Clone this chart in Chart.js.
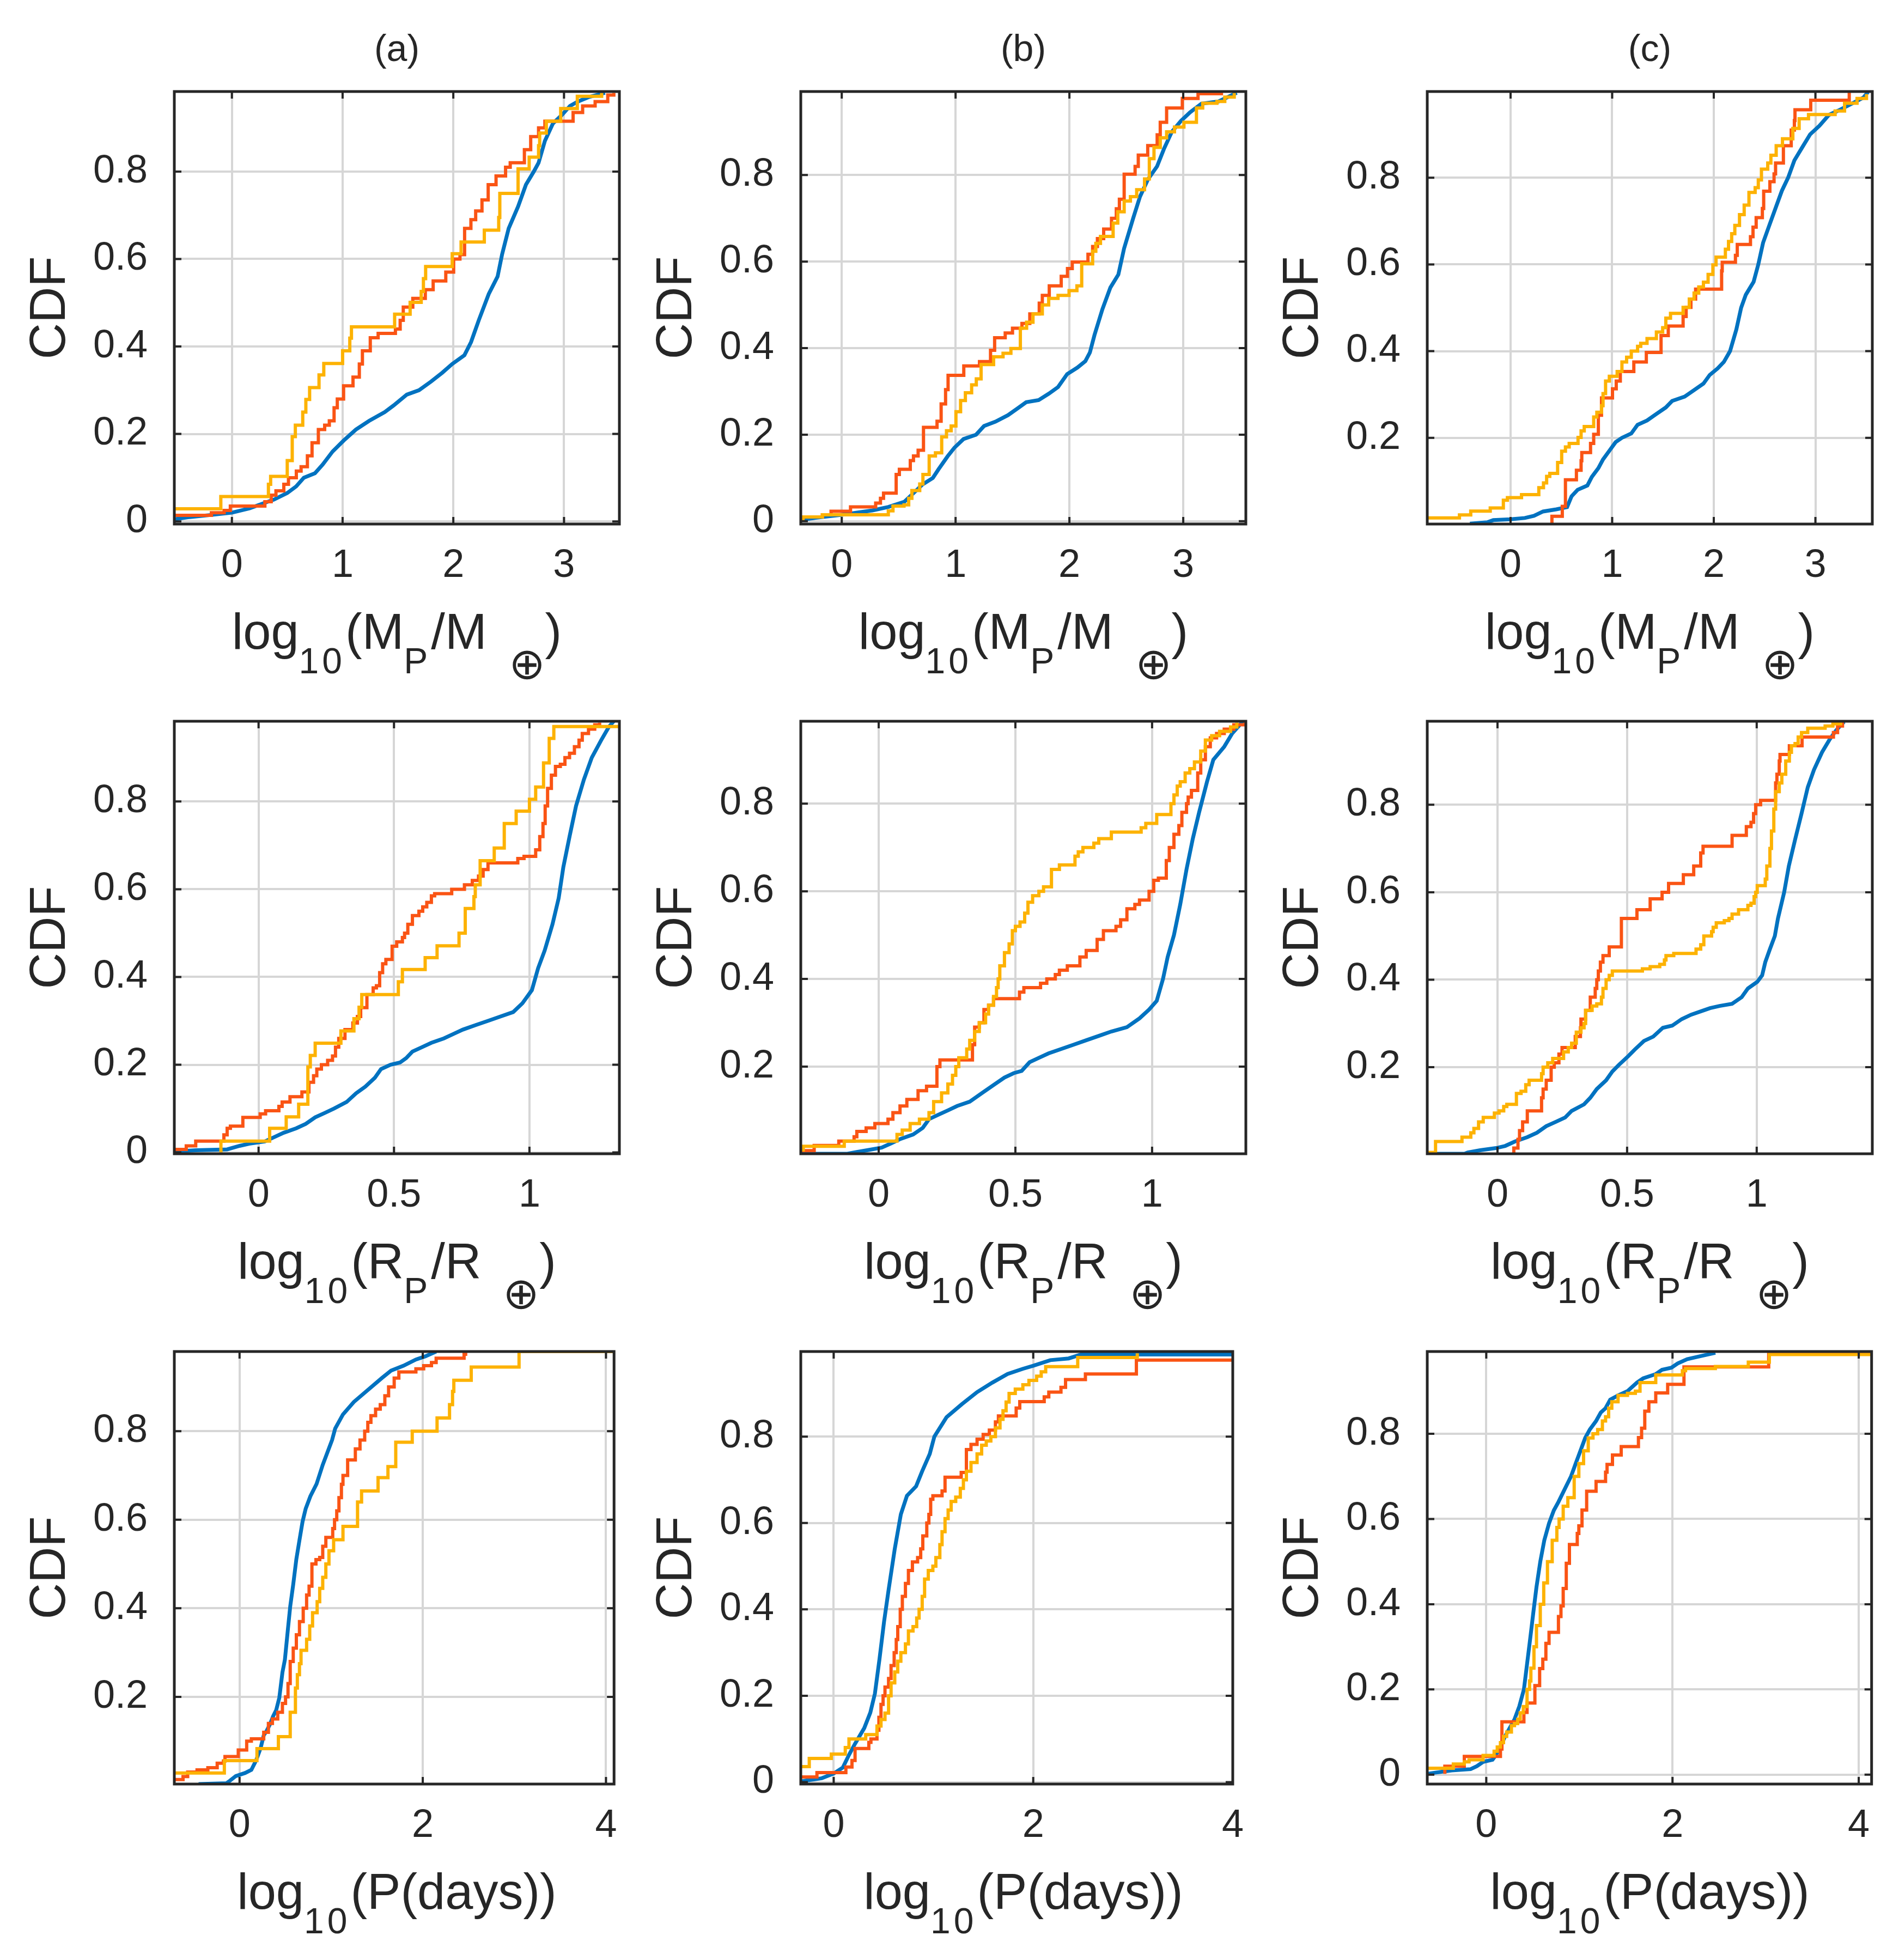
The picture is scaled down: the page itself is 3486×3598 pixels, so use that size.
<!DOCTYPE html>
<html>
<head>
<meta charset="utf-8">
<script src="https://cdn.jsdelivr.net/npm/chart.js@4.4.0/dist/chart.umd.min.js"></script>
<style>
  html, body { margin: 0; padding: 0; background: #fff; }
  body { width: 3486px; height: 3598px; position: relative; overflow: hidden;
         font-family: "Liberation Sans", Arial, sans-serif; color: #262626; }
  canvas { position: absolute; }
  .xl { position: absolute; text-align: center; font-size: 92px; line-height: 92px; white-space: nowrap; }
  .xl .s { font-size: 66px; position: relative; top: 45px; letter-spacing: 6px; }
  .xl .e { font-size: 80px; position: relative; top: 55px; font-family: "DejaVu Sans ExtraLight", "DejaVu Sans", sans-serif; margin-left: 40px; font-weight: 200; }
  .tt { position: absolute; text-align: center; font-size: 68px; line-height: 68px; }
</style>
</head>
<body>
<script>
// column titles and tick values
const colTitles = ["(a)", "(b)", "(c)"];
const massTicks = [0, 1, 2, 3];
const radiusTicks = [0, 0.5, 1];
const periodTicks = [0, 2, 4];
const cdfTicks = [0, 0.2, 0.4, 0.6, 0.8];

// ---- row 1: log10(Mp/Mearth), [x, F] pairs ----
const massBlueA = [[-0.52,0.005],[-0.38,0.01],[-0.18,0.015],[0,0.02],[0.16,0.03],[0.27,0.04],[0.38,0.05],[0.5,0.065],[0.58,0.08],[0.65,0.1],[0.75,0.11],[0.82,0.13],[0.91,0.16],[1.01,0.185],[1.12,0.21],[1.24,0.23],[1.38,0.25],[1.46,0.265],[1.58,0.29],[1.69,0.3],[1.8,0.32],[1.9,0.34],[1.99,0.36],[2.1,0.38],[2.16,0.41],[2.23,0.46],[2.32,0.52],[2.4,0.56],[2.44,0.61],[2.5,0.67],[2.585,0.72],[2.656,0.77],[2.727,0.8],[2.77,0.82],[2.827,0.87],[2.9,0.91],[2.983,0.93],[3.054,0.95],[3.125,0.96],[3.22,0.97],[3.37,0.98]];
const massRedA = [[-0.52,0.014],[-0.185,0.02],[-0.07,0.025],[-0.014,0.035],[0.298,0.045],[0.355,0.06],[0.398,0.07],[0.469,0.085],[0.511,0.1],[0.582,0.115],[0.625,0.125],[0.682,0.15],[0.724,0.18],[0.781,0.21],[0.838,0.22],[0.88,0.23],[0.923,0.26],[0.952,0.28],[1.009,0.31],[1.094,0.33],[1.151,0.36],[1.179,0.39],[1.25,0.42],[1.321,0.43],[1.477,0.44],[1.52,0.46],[1.548,0.49],[1.634,0.51],[1.747,0.53],[1.818,0.55],[1.932,0.57],[2.003,0.6],[2.06,0.61],[2.102,0.67],[2.159,0.69],[2.202,0.71],[2.259,0.735],[2.315,0.77],[2.386,0.79],[2.472,0.81],[2.514,0.82],[2.642,0.85],[2.699,0.88],[2.77,0.9],[2.827,0.915],[3.082,0.935],[3.168,0.95],[3.281,0.96],[3.395,0.975],[3.45,0.98]];
const massYellowA = [[-0.52,0.029],[-0.1,0.057],[0.33,0.085],[0.35,0.103],[0.5,0.139],[0.545,0.194],[0.573,0.22],[0.64,0.25],[0.668,0.279],[0.702,0.306],[0.787,0.335],[0.83,0.361],[1.0,0.39],[1.065,0.419],[1.08,0.445],[1.47,0.474],[1.61,0.501],[1.71,0.526],[1.73,0.555],[1.75,0.583],[1.99,0.612],[2.07,0.639],[2.28,0.666],[2.41,0.695],[2.42,0.75],[2.585,0.806],[2.685,0.833],[2.77,0.859],[2.78,0.888],[2.84,0.915],[2.97,0.944],[3.12,0.972],[3.34,0.98]];

const massBlueB = [[-0.36,0.003],[-0.23,0.008],[0,0.015],[0.27,0.025],[0.41,0.033],[0.55,0.045],[0.63,0.065],[0.71,0.085],[0.8,0.1],[0.85,0.12],[0.93,0.15],[0.99,0.17],[1.07,0.19],[1.18,0.2],[1.25,0.22],[1.35,0.23],[1.46,0.245],[1.54,0.26],[1.62,0.275],[1.73,0.28],[1.82,0.295],[1.9,0.31],[1.98,0.34],[2.07,0.355],[2.14,0.37],[2.18,0.39],[2.22,0.43],[2.29,0.49],[2.36,0.54],[2.43,0.57],[2.48,0.63],[2.56,0.7],[2.62,0.75],[2.69,0.79],[2.77,0.82],[2.83,0.86],[2.9,0.9],[2.98,0.925],[3.06,0.945],[3.16,0.965],[3.31,0.97],[3.47,0.99]];
const massRedB = [[-0.36,0.01],[-0.17,0.015],[-0.094,0.023],[0.077,0.033],[0.298,0.042],[0.34,0.053],[0.367,0.065],[0.478,0.108],[0.506,0.12],[0.602,0.14],[0.63,0.151],[0.671,0.164],[0.718,0.217],[0.837,0.231],[0.873,0.271],[0.912,0.304],[0.934,0.337],[1.072,0.359],[1.21,0.369],[1.307,0.395],[1.343,0.424],[1.436,0.435],[1.5,0.446],[1.583,0.457],[1.652,0.479],[1.735,0.504],[1.762,0.522],[1.823,0.544],[1.928,0.566],[1.983,0.584],[2.025,0.599],[2.163,0.617],[2.204,0.635],[2.246,0.653],[2.301,0.675],[2.37,0.7],[2.412,0.722],[2.439,0.744],[2.481,0.802],[2.577,0.82],[2.605,0.846],[2.688,0.868],[2.771,0.893],[2.798,0.922],[2.854,0.955],[2.992,0.977],[3.13,0.988],[3.35,0.988]];
const massYellowB = [[-0.36,0.005],[-0.34,0.01],[-0.17,0.015],[0.409,0.024],[0.45,0.035],[0.547,0.038],[0.588,0.053],[0.616,0.071],[0.685,0.086],[0.713,0.108],[0.768,0.151],[0.823,0.158],[0.878,0.195],[0.92,0.209],[0.961,0.22],[1.003,0.253],[1.044,0.279],[1.086,0.297],[1.141,0.315],[1.182,0.329],[1.224,0.362],[1.334,0.38],[1.417,0.388],[1.486,0.399],[1.569,0.446],[1.624,0.46],[1.68,0.479],[1.762,0.5],[1.818,0.515],[1.9,0.522],[1.997,0.533],[2.066,0.544],[2.108,0.595],[2.204,0.624],[2.232,0.642],[2.273,0.658],[2.384,0.689],[2.425,0.715],[2.481,0.74],[2.536,0.75],[2.591,0.766],[2.66,0.791],[2.702,0.838],[2.743,0.864],[2.798,0.886],[2.854,0.9],[2.923,0.911],[3.006,0.922],[3.116,0.955],[3.171,0.966],[3.296,0.97],[3.365,0.98],[3.448,0.99]];

const massBlueC = [[-0.4,0.002],[-0.23,0.005],[-0.17,0.01],[0,0.012],[0.14,0.015],[0.23,0.02],[0.32,0.03],[0.45,0.035],[0.556,0.04],[0.6,0.065],[0.66,0.08],[0.756,0.09],[0.8,0.11],[0.864,0.13],[0.91,0.15],[0.972,0.17],[1.034,0.19],[1.096,0.2],[1.188,0.21],[1.25,0.23],[1.343,0.24],[1.435,0.255],[1.528,0.27],[1.59,0.285],[1.713,0.295],[1.806,0.31],[1.898,0.325],[1.96,0.345],[2.037,0.36],[2.099,0.375],[2.16,0.4],[2.222,0.45],[2.269,0.5],[2.315,0.53],[2.392,0.56],[2.438,0.6],[2.485,0.65],[2.546,0.69],[2.608,0.73],[2.67,0.77],[2.731,0.8],[2.793,0.84],[2.87,0.87],[2.948,0.9],[3.04,0.92],[3.133,0.945],[3.225,0.955],[3.349,0.97],[3.472,0.985],[3.518,0.998]];
const massRedC = [[0.407,0],[0.407,0.019],[0.509,0.042],[0.54,0.103],[0.648,0.125],[0.694,0.147],[0.701,0.166],[0.787,0.187],[0.818,0.208],[0.864,0.252],[0.895,0.292],[1.003,0.313],[1.04,0.331],[1.08,0.353],[1.213,0.375],[1.336,0.397],[1.481,0.436],[1.552,0.458],[1.698,0.48],[1.728,0.501],[1.775,0.52],[1.821,0.543],[2.077,0.585],[2.083,0.605],[2.213,0.621],[2.231,0.646],[2.361,0.664],[2.386,0.686],[2.417,0.708],[2.478,0.729],[2.491,0.769],[2.552,0.791],[2.593,0.809],[2.608,0.834],[2.685,0.874],[2.762,0.91],[2.793,0.932],[2.799,0.957],[2.954,0.979],[3.333,0.999]];
const massYellowC = [[-0.82,0.015],[-0.503,0.022],[-0.392,0.031],[-0.2,0.038],[-0.071,0.056],[-0.031,0.062],[0.108,0.069],[0.278,0.085],[0.324,0.096],[0.355,0.111],[0.386,0.118],[0.463,0.143],[0.503,0.169],[0.54,0.179],[0.577,0.187],[0.664,0.201],[0.694,0.216],[0.725,0.226],[0.818,0.248],[0.849,0.259],[0.895,0.274],[0.91,0.302],[0.935,0.331],[0.972,0.342],[1.049,0.353],[1.096,0.375],[1.142,0.386],[1.188,0.4],[1.25,0.411],[1.281,0.418],[1.343,0.429],[1.435,0.444],[1.497,0.454],[1.528,0.476],[1.574,0.487],[1.698,0.501],[1.759,0.52],[1.806,0.534],[1.852,0.548],[1.898,0.559],[1.944,0.577],[1.991,0.599],[2.022,0.617],[2.114,0.635],[2.145,0.653],[2.176,0.671],[2.207,0.69],[2.253,0.715],[2.299,0.737],[2.346,0.766],[2.407,0.777],[2.438,0.795],[2.469,0.82],[2.531,0.834],[2.562,0.852],[2.614,0.874],[2.676,0.89],[2.778,0.914],[2.84,0.936],[2.932,0.946],[3.194,0.954],[3.287,0.972],[3.41,0.983],[3.503,0.993]];

// ---- row 2: log10(Rp/Rearth) ----
const radiusBlueA = [[-0.311,0.002],[-0.232,0.005],[-0.116,0.007],[-0.07,0.015],[-0.035,0.02],[0.023,0.025],[0.058,0.035],[0.093,0.045],[0.139,0.055],[0.174,0.065],[0.209,0.08],[0.244,0.09],[0.278,0.1],[0.325,0.115],[0.36,0.135],[0.394,0.15],[0.429,0.17],[0.452,0.19],[0.487,0.2],[0.522,0.205],[0.545,0.215],[0.568,0.23],[0.603,0.24],[0.638,0.25],[0.684,0.26],[0.719,0.27],[0.754,0.28],[0.8,0.29],[0.847,0.3],[0.893,0.31],[0.94,0.32],[0.974,0.34],[1.009,0.37],[1.032,0.42],[1.056,0.46],[1.085,0.52],[1.108,0.58],[1.125,0.65],[1.148,0.72],[1.172,0.79],[1.201,0.85],[1.23,0.9],[1.265,0.94],[1.293,0.97],[1.311,0.983]];
const radiusRedA = [[-0.311,0.007],[-0.267,0.015],[-0.232,0.026],[-0.128,0.04],[-0.116,0.055],[-0.104,0.06],[-0.058,0.08],[0.006,0.088],[0.026,0.095],[0.075,0.105],[0.087,0.115],[0.116,0.127],[0.16,0.138],[0.186,0.16],[0.203,0.175],[0.215,0.19],[0.232,0.2],[0.255,0.21],[0.273,0.22],[0.284,0.24],[0.296,0.26],[0.319,0.28],[0.348,0.295],[0.365,0.31],[0.377,0.33],[0.4,0.36],[0.423,0.375],[0.435,0.38],[0.447,0.41],[0.458,0.43],[0.47,0.44],[0.493,0.47],[0.51,0.48],[0.531,0.49],[0.539,0.5],[0.551,0.52],[0.568,0.54],[0.592,0.55],[0.606,0.56],[0.621,0.57],[0.638,0.585],[0.65,0.59],[0.713,0.6],[0.76,0.61],[0.789,0.62],[0.812,0.63],[0.829,0.645],[0.847,0.66],[0.957,0.67],[0.98,0.675],[1.023,0.69],[1.038,0.72],[1.05,0.75],[1.058,0.79],[1.067,0.83],[1.081,0.86],[1.096,0.88],[1.114,0.885],[1.131,0.9],[1.148,0.91],[1.166,0.925],[1.183,0.94],[1.195,0.955],[1.218,0.965],[1.241,0.975],[1.259,0.98]];
const radiusYellowA = [[-0.139,0],[-0.139,0.026],[0.041,0.055],[0.102,0.081],[0.148,0.11],[0.182,0.195],[0.191,0.221],[0.209,0.249],[0.304,0.277],[0.352,0.305],[0.371,0.331],[0.381,0.36],[0.516,0.389],[0.531,0.417],[0.615,0.444],[0.659,0.471],[0.74,0.5],[0.763,0.556],[0.795,0.583],[0.8,0.61],[0.818,0.665],[0.87,0.694],[0.907,0.75],[0.951,0.778],[1.0,0.805],[1.023,0.833],[1.052,0.888],[1.073,0.944],[1.09,0.971],[1.332,0.971]];

const radiusBlueB = [[-0.285,0.001],[-0.115,0.001],[-0.08,0.005],[-0.034,0.01],[0.011,0.015],[0.046,0.025],[0.08,0.035],[0.126,0.045],[0.161,0.06],[0.184,0.08],[0.218,0.09],[0.253,0.1],[0.287,0.11],[0.333,0.12],[0.379,0.14],[0.425,0.16],[0.46,0.175],[0.494,0.185],[0.523,0.19],[0.552,0.21],[0.586,0.22],[0.621,0.23],[0.667,0.24],[0.713,0.25],[0.759,0.26],[0.805,0.27],[0.851,0.28],[0.908,0.29],[0.954,0.31],[0.989,0.33],[1.017,0.35],[1.04,0.4],[1.057,0.45],[1.08,0.5],[1.103,0.57],[1.126,0.65],[1.149,0.72],[1.172,0.78],[1.201,0.85],[1.224,0.9],[1.264,0.93],[1.293,0.96],[1.333,0.988]];
const radiusRedB = [[-0.285,0.008],[-0.236,0.02],[-0.146,0.03],[-0.09,0.04],[-0.08,0.052],[-0.046,0.06],[-0.014,0.07],[0.034,0.08],[0.052,0.095],[0.078,0.11],[0.103,0.125],[0.144,0.145],[0.175,0.155],[0.213,0.2],[0.224,0.215],[0.343,0.25],[0.351,0.29],[0.368,0.3],[0.385,0.33],[0.402,0.34],[0.42,0.355],[0.515,0.37],[0.531,0.38],[0.592,0.39],[0.615,0.4],[0.646,0.41],[0.661,0.42],[0.69,0.43],[0.736,0.45],[0.759,0.465],[0.799,0.49],[0.822,0.51],[0.868,0.52],[0.885,0.535],[0.908,0.56],[0.937,0.57],[0.954,0.58],[0.989,0.6],[1.006,0.625],[1.023,0.63],[1.052,0.67],[1.063,0.7],[1.08,0.73],[1.098,0.75],[1.109,0.78],[1.126,0.8],[1.132,0.815],[1.144,0.83],[1.167,0.87],[1.178,0.9],[1.195,0.93],[1.213,0.95],[1.236,0.96],[1.264,0.97],[1.299,0.98],[1.339,0.985]];
const radiusYellowB = [[-0.285,0.01],[-0.276,0.018],[-0.126,0.03],[0.067,0.045],[0.086,0.055],[0.115,0.07],[0.149,0.08],[0.184,0.095],[0.201,0.12],[0.23,0.14],[0.253,0.16],[0.27,0.18],[0.282,0.2],[0.293,0.22],[0.322,0.24],[0.333,0.26],[0.351,0.28],[0.368,0.3],[0.391,0.32],[0.402,0.34],[0.42,0.36],[0.431,0.38],[0.437,0.4],[0.443,0.43],[0.46,0.46],[0.477,0.48],[0.489,0.51],[0.5,0.52],[0.517,0.53],[0.534,0.55],[0.546,0.575],[0.563,0.59],[0.586,0.6],[0.603,0.61],[0.632,0.65],[0.661,0.66],[0.718,0.68],[0.73,0.69],[0.747,0.7],[0.787,0.71],[0.805,0.72],[0.851,0.735],[0.96,0.745],[0.977,0.755],[1.017,0.775],[1.069,0.8],[1.08,0.82],[1.092,0.84],[1.103,0.85],[1.121,0.87],[1.138,0.88],[1.155,0.895],[1.178,0.92],[1.195,0.945],[1.218,0.955],[1.247,0.965],[1.287,0.975],[1.31,0.985]];

const radiusBlueC = [[-0.271,0.002],[-0.127,0.002],[-0.115,0.005],[-0.067,0.01],[-0.006,0.015],[0.03,0.02],[0.067,0.03],[0.115,0.04],[0.152,0.05],[0.188,0.065],[0.225,0.075],[0.261,0.085],[0.286,0.1],[0.334,0.115],[0.358,0.13],[0.383,0.15],[0.419,0.17],[0.443,0.19],[0.468,0.205],[0.504,0.225],[0.529,0.24],[0.565,0.26],[0.601,0.27],[0.638,0.29],[0.674,0.295],[0.711,0.31],[0.747,0.32],[0.796,0.33],[0.82,0.335],[0.857,0.34],[0.905,0.345],[0.942,0.36],[0.966,0.38],[1.002,0.395],[1.021,0.41],[1.033,0.44],[1.051,0.47],[1.07,0.5],[1.082,0.54],[1.106,0.6],[1.124,0.66],[1.148,0.72],[1.173,0.78],[1.197,0.84],[1.221,0.88],[1.252,0.92],[1.282,0.95],[1.306,0.97],[1.337,0.99]];
const radiusRedC = [[0.063,0],[0.063,0.015],[0.079,0.035],[0.085,0.055],[0.097,0.075],[0.115,0.1],[0.17,0.13],[0.176,0.15],[0.188,0.17],[0.207,0.2],[0.219,0.21],[0.237,0.23],[0.249,0.245],[0.3,0.27],[0.32,0.29],[0.322,0.31],[0.34,0.33],[0.358,0.36],[0.377,0.38],[0.383,0.4],[0.389,0.42],[0.397,0.44],[0.407,0.455],[0.431,0.475],[0.478,0.54],[0.538,0.56],[0.589,0.585],[0.635,0.6],[0.66,0.62],[0.717,0.64],[0.757,0.66],[0.784,0.69],[0.793,0.705],[0.905,0.73],[0.96,0.75],[0.978,0.76],[0.988,0.78],[0.996,0.8],[1.015,0.81],[1.073,0.85],[1.078,0.87],[1.087,0.9],[1.09,0.915],[1.126,0.935],[1.175,0.955],[1.296,0.965],[1.312,0.98],[1.331,0.99]];
const radiusYellowC = [[-0.271,0.005],[-0.239,0.03],[-0.137,0.04],[-0.103,0.05],[-0.091,0.06],[-0.073,0.075],[-0.055,0.085],[-0.012,0.095],[0.006,0.1],[0.024,0.11],[0.036,0.115],[0.073,0.14],[0.091,0.145],[0.109,0.16],[0.122,0.17],[0.17,0.185],[0.176,0.2],[0.194,0.21],[0.213,0.22],[0.255,0.235],[0.273,0.245],[0.286,0.255],[0.304,0.28],[0.322,0.29],[0.334,0.3],[0.34,0.33],[0.365,0.34],[0.383,0.345],[0.401,0.36],[0.407,0.38],[0.419,0.4],[0.431,0.41],[0.443,0.42],[0.559,0.425],[0.589,0.43],[0.626,0.435],[0.644,0.445],[0.65,0.455],[0.68,0.46],[0.766,0.47],[0.784,0.48],[0.796,0.5],[0.826,0.51],[0.832,0.52],[0.844,0.53],[0.875,0.535],[0.893,0.54],[0.905,0.55],[0.93,0.56],[0.966,0.57],[0.978,0.575],[0.99,0.59],[0.996,0.6],[1.002,0.615],[1.033,0.63],[1.039,0.66],[1.051,0.7],[1.057,0.74],[1.066,0.79],[1.073,0.83],[1.087,0.85],[1.097,0.87],[1.112,0.9],[1.126,0.92],[1.134,0.935],[1.148,0.94],[1.16,0.955],[1.173,0.965],[1.197,0.975],[1.264,0.98],[1.294,0.985],[1.324,0.993]];

// ---- row 3: log10(P(days)) ----
const periodBlueA = [[-0.447,0.003],[-0.142,0.005],[-0.108,0.01],[-0.041,0.021],[0.061,0.028],[0.129,0.035],[0.18,0.056],[0.231,0.085],[0.264,0.113],[0.298,0.124],[0.332,0.138],[0.366,0.156],[0.4,0.17],[0.434,0.198],[0.468,0.255],[0.495,0.284],[0.529,0.355],[0.553,0.404],[0.586,0.454],[0.62,0.511],[0.654,0.554],[0.688,0.596],[0.722,0.625],[0.773,0.653],[0.841,0.681],[0.908,0.724],[1.01,0.78],[1.044,0.806],[1.129,0.838],[1.247,0.866],[1.383,0.89],[1.553,0.92],[1.654,0.937],[1.79,0.948],[1.925,0.962],[2.027,0.969],[2.146,0.98]];
const periodRedA = [[-0.712,0.013],[-0.617,0.02],[-0.566,0.03],[-0.464,0.035],[-0.346,0.04],[-0.244,0.05],[-0.176,0.055],[-0.159,0.065],[-0.014,0.08],[0.078,0.1],[0.129,0.105],[0.264,0.12],[0.315,0.14],[0.359,0.15],[0.417,0.165],[0.468,0.185],[0.502,0.2],[0.529,0.23],[0.553,0.28],[0.586,0.31],[0.62,0.34],[0.654,0.37],[0.695,0.4],[0.732,0.43],[0.759,0.45],[0.79,0.5],[0.834,0.51],[0.875,0.515],[0.908,0.54],[0.942,0.56],[1.017,0.58],[1.037,0.6],[1.061,0.62],[1.085,0.65],[1.112,0.68],[1.129,0.7],[1.18,0.735],[1.264,0.76],[1.315,0.78],[1.366,0.8],[1.4,0.82],[1.434,0.835],[1.485,0.85],[1.536,0.86],[1.586,0.88],[1.627,0.9],[1.688,0.92],[1.739,0.934],[1.925,0.941],[2.01,0.948],[2.095,0.955],[2.146,0.965],[2.451,0.974],[2.468,0.98]];
const periodYellowA = [[-0.712,0.028],[-0.166,0.056],[0.19,0.083],[0.424,0.11],[0.553,0.165],[0.61,0.22],[0.631,0.25],[0.654,0.275],[0.671,0.305],[0.732,0.33],[0.766,0.36],[0.797,0.39],[0.847,0.415],[0.875,0.445],[0.908,0.47],[0.942,0.5],[0.976,0.53],[1.027,0.555],[1.129,0.585],[1.288,0.64],[1.332,0.665],[1.512,0.695],[1.62,0.72],[1.705,0.775],[1.885,0.8],[2.156,0.83],[2.292,0.86],[2.325,0.89],[2.339,0.915],[2.529,0.945],[3.051,0.98],[4.088,0.98]];

const periodBlueB = [[-0.33,0.002],[-0.12,0.009],[0,0.02],[0.092,0.034],[0.153,0.063],[0.214,0.089],[0.306,0.125],[0.367,0.161],[0.413,0.205],[0.459,0.285],[0.505,0.372],[0.55,0.445],[0.612,0.54],[0.673,0.62],[0.734,0.663],[0.826,0.685],[0.887,0.72],[0.963,0.76],[1.009,0.8],[1.131,0.845],[1.284,0.875],[1.437,0.903],[1.59,0.925],[1.743,0.945],[1.896,0.957],[2.0,0.964],[2.171,0.977],[2.355,0.981],[2.477,0.99],[4.0,0.99]];
const periodRedB = [[-0.33,0.012],[-0.168,0.022],[0.122,0.035],[0.183,0.05],[0.214,0.078],[0.352,0.092],[0.373,0.1],[0.434,0.12],[0.453,0.15],[0.474,0.18],[0.495,0.2],[0.514,0.22],[0.55,0.24],[0.575,0.27],[0.606,0.3],[0.627,0.33],[0.642,0.36],[0.667,0.4],[0.688,0.43],[0.719,0.46],[0.749,0.49],[0.789,0.51],[0.841,0.52],[0.872,0.54],[0.893,0.57],[0.933,0.6],[0.954,0.62],[0.972,0.655],[0.994,0.663],[1.086,0.674],[1.116,0.706],[1.278,0.717],[1.33,0.77],[1.376,0.782],[1.437,0.794],[1.498,0.805],[1.56,0.815],[1.621,0.834],[1.651,0.848],[1.829,0.866],[1.865,0.881],[2.11,0.892],[2.156,0.903],[2.278,0.914],[2.324,0.932],[2.523,0.945],[3.034,0.977],[4.0,0.977]];
const periodYellowB = [[-0.33,0.036],[-0.245,0.055],[-0.024,0.065],[0.116,0.08],[0.153,0.1],[0.321,0.11],[0.434,0.13],[0.474,0.145],[0.514,0.16],[0.55,0.2],[0.575,0.23],[0.612,0.255],[0.642,0.28],[0.673,0.3],[0.719,0.32],[0.749,0.35],[0.795,0.36],[0.832,0.38],[0.856,0.4],[0.887,0.43],[0.911,0.47],[0.948,0.49],[0.994,0.5],[1.024,0.52],[1.064,0.55],[1.086,0.58],[1.116,0.61],[1.147,0.63],[1.177,0.65],[1.223,0.66],[1.269,0.68],[1.3,0.7],[1.33,0.72],[1.376,0.74],[1.437,0.76],[1.483,0.78],[1.529,0.79],[1.575,0.8],[1.621,0.82],[1.667,0.84],[1.697,0.86],[1.728,0.88],[1.758,0.9],[1.82,0.91],[1.896,0.92],[1.957,0.93],[2.034,0.94],[2.08,0.95],[2.125,0.962],[2.446,0.983],[3.043,0.993]];

const periodBlueC = [[-0.634,0.002],[-0.539,0.005],[-0.371,0.01],[-0.168,0.013],[-0.101,0.02],[-0.034,0.03],[0.067,0.035],[0.101,0.045],[0.152,0.065],[0.202,0.09],[0.253,0.11],[0.303,0.13],[0.354,0.16],[0.404,0.2],[0.438,0.26],[0.472,0.32],[0.505,0.38],[0.539,0.44],[0.58,0.5],[0.623,0.55],[0.674,0.59],[0.725,0.62],[0.775,0.64],[0.842,0.67],[0.91,0.7],[0.96,0.73],[1.011,0.76],[1.062,0.79],[1.112,0.81],[1.179,0.83],[1.23,0.85],[1.281,0.86],[1.331,0.88],[1.415,0.89],[1.516,0.9],[1.618,0.92],[1.685,0.93],[1.82,0.94],[1.887,0.95],[1.988,0.955],[2.056,0.965],[2.157,0.975],[2.258,0.98],[2.46,0.99]];
const periodRedC = [[-0.445,0.002],[-0.445,0.02],[-0.236,0.043],[0.152,0.06],[0.168,0.124],[0.404,0.146],[0.438,0.168],[0.522,0.209],[0.573,0.249],[0.607,0.271],[0.64,0.308],[0.674,0.334],[0.775,0.371],[0.802,0.396],[0.826,0.437],[0.859,0.496],[0.893,0.54],[0.977,0.566],[0.994,0.584],[1.028,0.621],[1.078,0.665],[1.179,0.688],[1.281,0.71],[1.297,0.728],[1.355,0.75],[1.449,0.77],[1.634,0.791],[1.668,0.813],[1.702,0.853],[1.746,0.875],[1.82,0.896],[1.948,0.916],[2.123,0.957],[3.033,0.988],[4.138,0.988]];
const periodYellowC = [[-0.634,0.015],[-0.354,0.025],[-0.236,0.03],[-0.185,0.035],[-0.034,0.045],[0.084,0.055],[0.118,0.065],[0.152,0.075],[0.185,0.09],[0.219,0.1],[0.27,0.115],[0.303,0.12],[0.337,0.13],[0.364,0.145],[0.398,0.16],[0.438,0.2],[0.465,0.22],[0.479,0.25],[0.512,0.3],[0.539,0.35],[0.58,0.4],[0.617,0.45],[0.657,0.5],[0.708,0.55],[0.758,0.58],[0.782,0.6],[0.826,0.63],[0.876,0.65],[0.944,0.7],[0.994,0.73],[1.045,0.76],[1.095,0.79],[1.146,0.8],[1.196,0.81],[1.247,0.83],[1.281,0.84],[1.314,0.86],[1.348,0.875],[1.415,0.89],[1.516,0.895],[1.601,0.9],[1.651,0.92],[1.82,0.938],[2.106,0.948],[2.14,0.953],[2.46,0.958],[2.814,0.968],[3.04,0.986],[4.138,0.986]];

// ---- look ----
const FONT = '"Liberation Sans", Arial, Helvetica, sans-serif';
const BLUE = '#0072C0', RED = '#FA5414', YELLOW = '#FDB202';
const TXT = '#262626', GRID = '#d6d6d6';
const colLeft = [320, 1470, 2620], rowTop = [168, 1324, 2481];
const plotW = 817, plotH = 794, padL = 320, padT = 168, padR = 30, padB = 140;

const xLabels = [
  'log<span class="s">10</span>(M<span class="s">P</span>/M<span class="e">&#8853;</span>)',
  'log<span class="s">10</span>(R<span class="s">P</span>/R<span class="e">&#8853;</span>)',
  'log<span class="s">10</span>(P(days))'
];

// one entry per axes: data + the axis limits of that subplot
const panels = [
  {row: 0, col: 0, xr: [-0.52, 3.50], yr: [-0.006, 0.983], ticks: massTicks, lines: [massBlueA, massRedA, massYellowA]},
  {row: 0, col: 1, xr: [-0.36, 3.55], yr: [-0.0065, 0.993], ticks: massTicks, lines: [massBlueB, massRedB, massYellowB]},
  {row: 0, col: 2, xr: [-0.82, 3.56], yr: [0.001, 0.999], ticks: massTicks, lines: [massBlueC, massRedC, massYellowC]},
  {row: 1, col: 0, xr: [-0.311, 1.332], yr: [-0.003, 0.983], ticks: radiusTicks, lines: [radiusBlueA, radiusRedA, radiusYellowA]},
  {row: 1, col: 1, xr: [-0.285, 1.343], yr: [0.001, 0.988], ticks: radiusTicks, lines: [radiusBlueB, radiusRedB, radiusYellowB]},
  {row: 1, col: 2, xr: [-0.271, 1.446], yr: [0.002, 0.991], ticks: radiusTicks, lines: [radiusBlueC, radiusRedC, radiusYellowC]},
  {row: 2, col: 0, xr: [-0.712, 4.088], yr: [0.003, 0.98], ticks: periodTicks, lines: [periodBlueA, periodRedA, periodYellowA]},
  {row: 2, col: 1, xr: [-0.33, 4.0], yr: [-0.0044, 0.997], ticks: periodTicks, lines: [periodBlueB, periodRedB, periodYellowB]},
  {row: 2, col: 2, xr: [-0.634, 4.138], yr: [-0.022, 0.993], ticks: periodTicks, lines: [periodBlueC, periodRedC, periodYellowC]}
];

// matlab style box with inward ticks on all four sides
const boxPlugin = {
  id: 'box',
  afterDatasetsDraw(chart) {
    const { ctx, chartArea: a, scales: { x, y } } = chart;
    ctx.save();
    ctx.strokeStyle = TXT;
    ctx.lineWidth = 4;
    ctx.beginPath();
    x.ticks.forEach(t => {
      const px = x.getPixelForValue(t.value);
      ctx.moveTo(px, a.bottom); ctx.lineTo(px, a.bottom - 13);
      ctx.moveTo(px, a.top); ctx.lineTo(px, a.top + 13);
    });
    y.ticks.forEach(t => {
      const py = y.getPixelForValue(t.value);
      ctx.moveTo(a.left, py); ctx.lineTo(a.left + 13, py);
      ctx.moveTo(a.right, py); ctx.lineTo(a.right - 13, py);
    });
    ctx.stroke();
    ctx.lineWidth = 5;
    ctx.strokeRect(a.left, a.top, a.right - a.left, a.bottom - a.top);
    ctx.restore();
  }
};

function pickTicks(list) {
  return scale => {
    scale.ticks = list.filter(v => v >= scale.min - 1e-9 && v <= scale.max + 1e-9).map(v => ({ value: v }));
  };
}

function line(pairs, color, width, order, stepped) {
  return {
    data: pairs.map(([x, y]) => ({ x, y })),
    borderColor: color,
    borderWidth: width,
    pointRadius: 0,
    fill: false,
    tension: 0,
    stepped: stepped,
    order: order
  };
}

panels.forEach(p => {
  const cv = document.createElement('canvas');
  cv.width = padL + plotW + padR;
  cv.height = padT + plotH + padB;
  cv.style.left = (colLeft[p.col] - padL) + 'px';
  cv.style.top = (rowTop[p.row] - padT) + 'px';
  document.body.appendChild(cv);

  new Chart(cv, {
    type: 'line',
    data: {
      datasets: [
        line(p.lines[0], BLUE, 7, 3, false),
        line(p.lines[1], RED, 6, 2, true),
        line(p.lines[2], YELLOW, 6, 1, true)
      ]
    },
    options: {
      responsive: false,
      animation: false,
      devicePixelRatio: 1,
      layout: { padding: { top: padT, right: padR, left: 0, bottom: 0 } },
      plugins: { legend: { display: false }, tooltip: { enabled: false } },
      scales: {
        x: {
          type: 'linear',
          min: p.xr[0], max: p.xr[1],
          afterBuildTicks: pickTicks(p.ticks),
          afterFit: s => { s.height = padB; },
          grid: { color: GRID, lineWidth: 4, drawTicks: false },
          border: { display: false },
          ticks: { autoSkip: false, maxRotation: 0, padding: 34, color: TXT,
                   font: { family: FONT, size: 72 }, callback: v => String(v) }
        },
        y: {
          type: 'linear',
          min: p.yr[0], max: p.yr[1],
          afterBuildTicks: pickTicks(cdfTicks),
          afterFit: s => { s.width = padL; },
          grid: { color: GRID, lineWidth: 4, drawTicks: false },
          border: { display: false },
          title: { display: true, text: 'CDF', color: TXT, padding: { top: 38, bottom: 0 },
                   font: { family: FONT, size: 92 } },
          ticks: { autoSkip: false, padding: 49, color: TXT,
                   font: { family: FONT, size: 72 }, callback: v => String(v) }
        }
      }
    },
    plugins: [boxPlugin]
  });

  // x label with sub-scripts
  const xl = document.createElement('div');
  xl.className = 'xl';
  xl.style.left = colLeft[p.col] + 'px';
  xl.style.width = plotW + 'px';
  xl.style.top = (rowTop[p.row] + plotH + 151) + 'px';
  xl.innerHTML = xLabels[p.row];
  document.body.appendChild(xl);

  if (p.row === 0) {
    const tt = document.createElement('div');
    tt.className = 'tt';
    tt.style.left = colLeft[p.col] + 'px';
    tt.style.width = plotW + 'px';
    tt.style.top = '54px';
    tt.textContent = colTitles[p.col];
    document.body.appendChild(tt);
  }
});
</script>
</body>
</html>
